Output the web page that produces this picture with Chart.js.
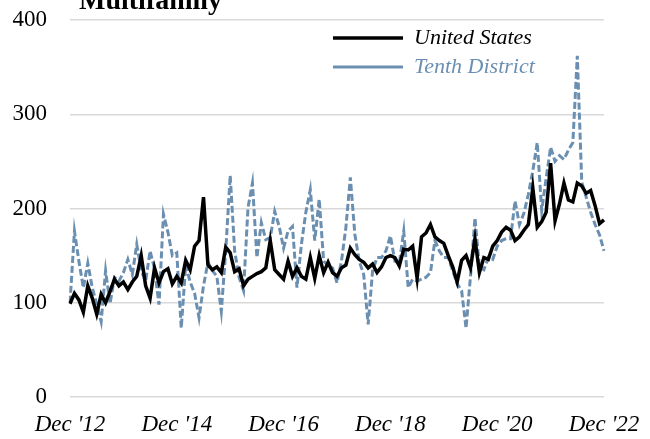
<!DOCTYPE html>
<html>
<head>
<meta charset="utf-8">
<script src="https://cdn.jsdelivr.net/npm/chart.js@4.4.0/dist/chart.umd.min.js"></script>
<style>
  html, body { margin: 0; padding: 0; background: #fff; }
  #wrap { position: relative; width: 650px; height: 439px; overflow: hidden; }
  #title { position: absolute; left: 79px; top: -14px; font: bold 28px/1 "Liberation Serif", serif; color: #000; }
</style>
</head>
<body>
<div id="wrap">
  <canvas id="chart"></canvas>
  <div id="title">Multifamily</div>
</div>
<script>
const monthNames = ["Jan", "Feb", "Mar", "Apr", "May", "Jun", "Jul", "Aug", "Sep", "Oct", "Nov", "Dec"];

// monthly, Dec 2012 .. Dec 2022
const months = [];
for (let i = 0; i < 121; i++) {
  const m = (11 + i) % 12;
  const y = 2012 + Math.floor((11 + i) / 12);
  months.push(monthNames[m] + " '" + String(y).slice(2));
}

const unitedStates = [
  99, 110, 103, 90, 118, 105, 88, 109, 100, 112, 125, 118, 122, 114, 122, 128, 150, 118, 105, 137, 121, 133, 136, 120,
  128, 121, 145, 135, 160, 166, 212, 140, 135, 138, 132, 159, 153, 133, 136, 118, 125, 128, 131, 133, 137, 166, 135, 130,
  125, 144, 128, 137, 128, 125, 148, 126, 150, 132, 143, 132, 128, 137, 140, 158, 151, 146, 143, 137, 141, 132, 138, 148,
  150, 148, 139, 157, 156, 160, 126, 170, 174, 183, 170, 166, 163, 150, 138, 122, 145, 150, 137, 168, 132, 148, 146, 160,
  166, 175, 180, 177, 166, 170, 177, 183, 222, 180, 186, 196, 248, 187, 205, 227, 209, 207, 227, 224, 216, 219, 203, 184, 188
];

const tenthDistrict = [
  100, 176, 144, 116, 142, 116, 99, 80, 134, 99, 127, 123, 132, 146, 130, 162, 134, 123, 155, 136, 98, 194, 175, 150,
  153, 73, 140, 122, 110, 84, 118, 143, 134, 128, 91, 155, 235, 155, 127, 113, 201, 227, 148, 185, 167, 169, 197, 181,
  158, 176, 181, 116, 162, 196, 220, 166, 210, 144, 140, 137, 121, 144, 180, 233, 173, 144, 130, 77, 134, 148, 148, 155,
  171, 144, 142, 176, 116, 125, 123, 125, 127, 132, 166, 155, 148, 148, 134, 120, 113, 73, 128, 190, 138, 135, 148, 146,
  160, 166, 168, 168, 208, 183, 195, 215, 240, 270, 198, 232, 265, 250, 256, 252, 262, 270, 362, 228, 212, 196, 183, 172, 155
];

const usColor = "#000000";
const tdColor = "#6b8fb1";
const serif = "'Liberation Serif', 'Times New Roman', serif";

// legend sits inside the plot, to the right
const legendShift = {
  id: "legendShift",
  afterLayout(chart) {
    const lg = chart.legend;
    if (!lg) return;
    const w = lg.width, h = lg.height;
    lg.left = 326;
    lg.right = lg.left + w;
    lg.top = chart.chartArea.top;
    lg.bottom = lg.top + h;
  }
};

const ctx = document.getElementById("chart");
new Chart(ctx, {
  type: "line",
  data: {
    labels: months,
    datasets: [
      {
        label: "United States",
        data: unitedStates,
        borderColor: usColor,
        backgroundColor: usColor,
        borderWidth: 3.5,
        pointRadius: 0,
        tension: 0,
        order: 0
      },
      {
        label: "Tenth District",
        data: tenthDistrict,
        borderColor: tdColor,
        backgroundColor: tdColor,
        borderWidth: 3,
        borderDash: [7, 3],
        pointRadius: 0,
        tension: 0,
        order: 1
      }
    ]
  },
  options: {
    responsive: true,
    maintainAspectRatio: false,
    animation: false,
    layout: { padding: { left: 0, right: 46, top: 20, bottom: 0 } },
    plugins: {
      title: { display: false },
      tooltip: { enabled: false },
      legend: {
        position: "chartArea",
        fullSize: false,
        align: "start",
        labels: {
          usePointStyle: true,
          pointStyle: "line",
          pointStyleWidth: 70,
          padding: 7,
          font: { family: serif, size: 22, style: "italic" },
          generateLabels(chart) {
            const items = Chart.defaults.plugins.legend.labels.generateLabels(chart);
            items.forEach((it) => {
              it.fontColor = it.datasetIndex === 0 ? usColor : tdColor;
            });
            return items;
          }
        }
      }
    },
    scales: {
      x: {
        grid: { display: false, drawTicks: false },
        border: { display: false },
        ticks: {
          autoSkip: false,
          maxRotation: 0,
          padding: 14,
          color: "#000",
          font: { family: serif, size: 23, style: "italic" },
          callback(value, index) {
            return index % 24 === 0 ? this.getLabelForValue(value) : null;
          }
        },
        afterFit(scale) {
          scale.height = 42;
          scale.paddingLeft = 0;
          scale.paddingRight = 0;
        }
      },
      y: {
        min: 0,
        max: 400,
        grid: { color: "#d9d9d9", lineWidth: 1.5, drawTicks: false },
        border: { display: false },
        ticks: {
          stepSize: 100,
          padding: 23,
          color: "#000",
          font: { family: serif, size: 23 }
        },
        afterFit(scale) {
          scale.width = 70;
          scale.paddingTop = 0;
          scale.paddingBottom = 0;
        }
      }
    }
  },
  plugins: [legendShift]
});
</script>
</body>
</html>
